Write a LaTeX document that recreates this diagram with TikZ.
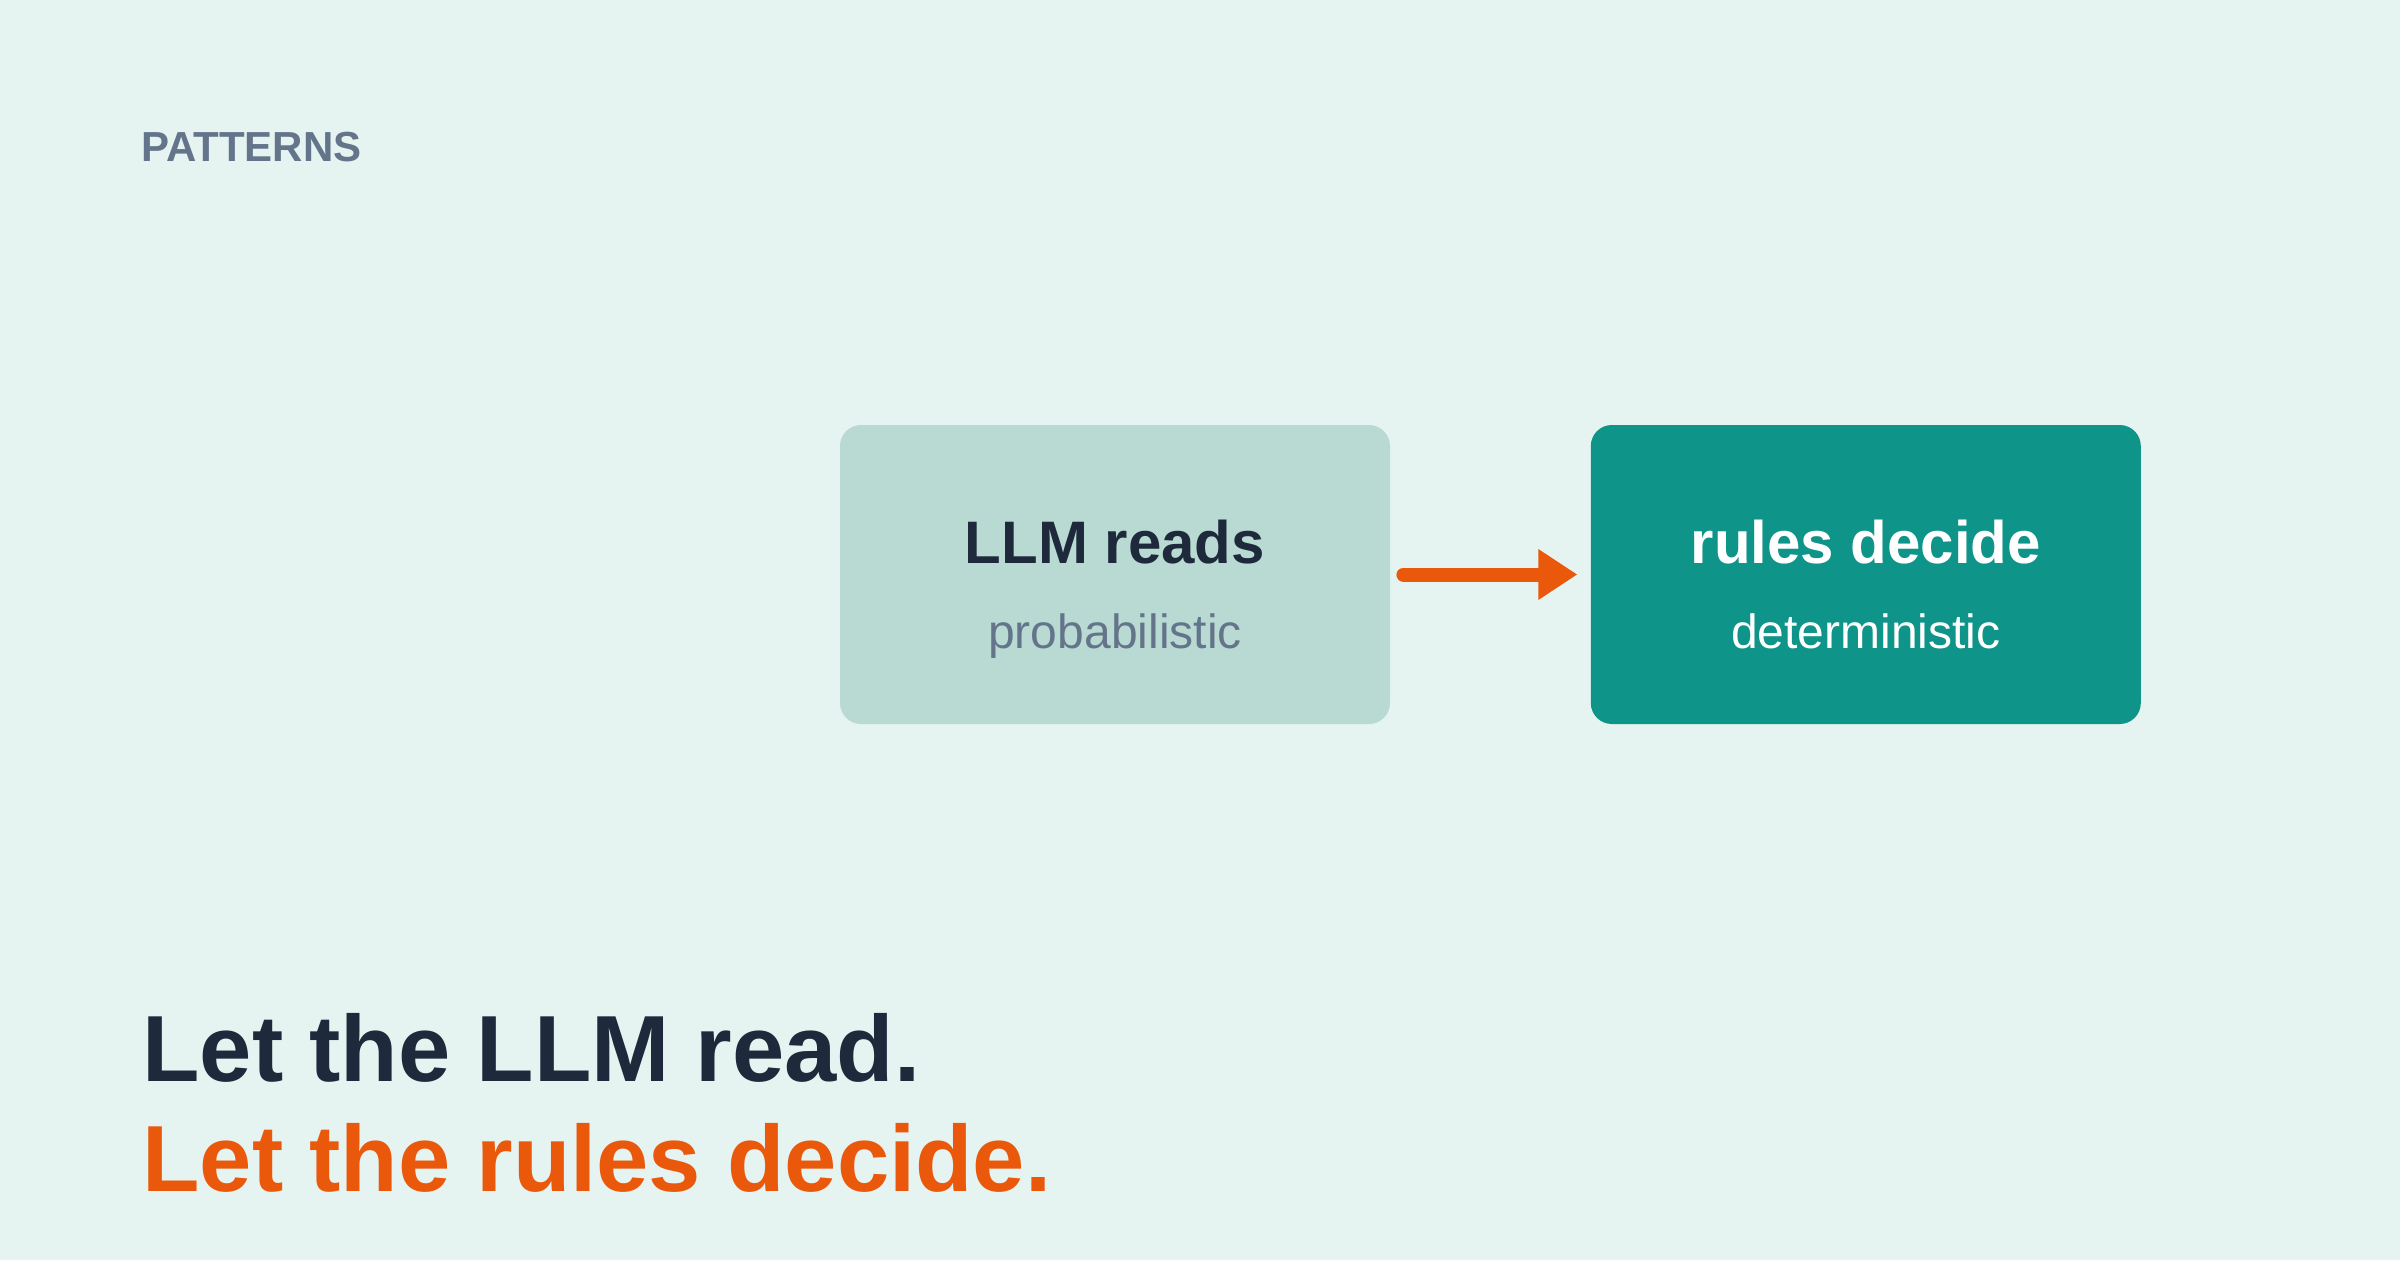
\documentclass[tikz,border=0pt]{standalone}
\usepackage{fontspec}
\setmainfont{Liberation Sans}
\usetikzlibrary{positioning,arrows.meta}
\definecolor{bgmint}{HTML}{E6F4F1}
\definecolor{softteal}{HTML}{B9DAD3}
\definecolor{deepteal}{HTML}{0E9488}
\definecolor{ink}{HTML}{1E293B}
\definecolor{slate}{HTML}{64748B}
\definecolor{accent}{HTML}{EA580C}
\begin{document}
\begin{tikzpicture}[x=0.5pt, y=-0.5pt,
      every node/.append style={inner sep=0pt},
      stage/.style={rounded corners=10.5pt, minimum width=275pt, minimum height=149.5pt},
      boxtitle/.style={anchor=base, font=\fontsize{30}{36}\selectfont\bfseries},
      boxnote/.style={anchor=base, font=\fontsize{24}{29}\selectfont},
      motto/.style={anchor=base west, font=\fontsize{47}{56}\selectfont\bfseries},
      flow/.style={draw=accent, line width=7pt, line cap=round,
        -{Triangle[length=19.5pt,width=24pt]}, shorten <=6.5pt, shorten >=6.5pt}]
    \fill[bgmint] (0,0) rectangle (2400,1260);
    \node (kicker) [anchor=base west, text=slate, font=\fontsize{21}{25}\selectfont\bfseries] at (141,161) {PATTERNS};
    % the two stages
    \node (llm) [stage, fill=softteal] at (1115,574.5) {};
    \node (rules) [stage, fill=deepteal, right=100pt of llm] {};
    \node (llmtitle) [boxtitle, text=ink] at ([yshift=5.75pt]llm.center) {LLM reads};
    \node (llmnote) [boxnote, text=slate] at ([yshift=-36.75pt]llm.center) {probabilistic};
    \node (rulestitle) [boxtitle, text=white] at ([yshift=5.75pt]rules.center) {rules decide};
    \node (rulesnote) [boxnote, text=white] at ([yshift=-36.75pt]rules.center) {deterministic};
    \draw[flow] (llm) -- (rules);
    % closing lines
    \node (readline) [motto, text=ink] at (142,1081) {Let the LLM read.};
    \node (decideline) [motto, text=accent] at (142,1191) {Let the rules decide.};
  \end{tikzpicture}
\end{document}
